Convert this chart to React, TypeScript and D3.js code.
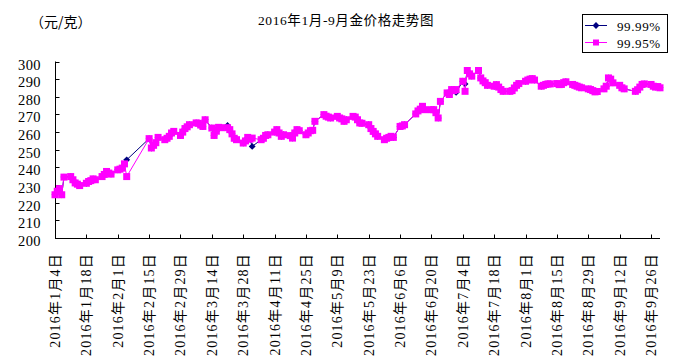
import React, { useRef, useEffect } from "react";
import * as d3 from "d3";

// trading days (M/D, 2016)
const tradingDays = [
  "1/4", "1/5", "1/6", "1/7", "1/8", "1/11", "1/12", "1/13", "1/14", "1/15", "1/18", "1/19", "1/20", "1/21", "1/22", "1/25", "1/26", "1/27", "1/28", "1/29",
  "2/1", "2/2", "2/3", "2/4", "2/5", "2/15", "2/16", "2/17", "2/18", "2/19", "2/22", "2/23", "2/24", "2/25", "2/26", "2/29",
  "3/1", "3/2", "3/3", "3/4", "3/7", "3/8", "3/9", "3/10", "3/11", "3/14", "3/15", "3/16", "3/17", "3/18", "3/21", "3/22", "3/23", "3/24", "3/25", "3/28", "3/29", "3/30", "3/31",
  "4/1", "4/5", "4/6", "4/7", "4/8", "4/11", "4/12", "4/13", "4/14", "4/15", "4/18", "4/19", "4/20", "4/21", "4/22", "4/25", "4/26", "4/27", "4/28", "4/29",
  "5/3", "5/4", "5/5", "5/6", "5/9", "5/10", "5/11", "5/12", "5/13", "5/16", "5/17", "5/18", "5/19", "5/20", "5/23", "5/24", "5/25", "5/26", "5/27", "5/30", "5/31",
  "6/1", "6/2", "6/3", "6/6", "6/7", "6/8", "6/13", "6/14", "6/15", "6/16", "6/17", "6/20", "6/21", "6/22", "6/23", "6/24", "6/27", "6/28", "6/29", "6/30",
  "7/1", "7/4", "7/5", "7/6", "7/7", "7/8", "7/11", "7/12", "7/13", "7/14", "7/15", "7/18", "7/19", "7/20", "7/21", "7/22", "7/25", "7/26", "7/27", "7/28", "7/29",
  "8/1", "8/2", "8/3", "8/4", "8/5", "8/8", "8/9", "8/10", "8/11", "8/12", "8/15", "8/16", "8/17", "8/18", "8/19", "8/22", "8/23", "8/24", "8/25", "8/26", "8/29", "8/30", "8/31",
  "9/1", "9/2", "9/5", "9/6", "9/7", "9/8", "9/9", "9/12", "9/13", "9/14", "9/19", "9/20", "9/21", "9/22", "9/23", "9/26", "9/27", "9/28", "9/29", "9/30",
];

// Au99.99 (元/克)
const au9999 = [
  224.5, 226.5, 228, 224.5, 234.5, 234.8, 233, 231.2, 230.5, 229.7, 231, 232, 232.5, 233.5, 233, 234.8, 236, 237.7, 236.8, 236.2,
  238.6, 239, 239.6, 242, 244.3, 256.3, 251, 252.5, 254, 257, 255.7, 256.5, 257.6, 259.5, 260.4, 258.1,
  260, 262, 263, 264.2, 265.2, 265, 264, 263.2, 267, 262.3, 258.1, 260.5, 262.7, 262.5, 263.8, 261.4, 259, 256.5, 255.7, 253.8, 255, 257, 256,
  251.9, 255.7, 256.5, 258.1, 258.5, 260, 261.4, 259.5, 257.6, 258.5, 258, 256.6, 259.5, 261.4, 260.8, 258.5, 259.5, 260.8, 261, 266.1,
  269.9, 269, 268.5, 268, 268.9, 268, 267.5, 266.1, 267, 268.9, 268.5, 267, 265.2, 265, 264.2, 262, 260.4, 259, 257.6, 255.7, 256.5,
  257, 257.6, 257, 263.2, 263.5, 264.2, 270.3, 272, 273, 274.6, 272.7, 272.7, 272.7, 271, 268, 277.4, 282.2, 281.3, 284.1, 283.5,
  282.5, 288.8, 287.3, 294.9, 293, 291.7, 294.9, 290.7, 289, 288, 286.5, 286, 286.9, 285.5, 284.1, 283.1, 283.1, 283.5, 285, 286.5, 287.5,
  288.8, 289.5, 290, 290.3, 289.5, 286, 286.5, 287, 287.3, 287.3, 287.5, 286.9, 287, 288, 288.5, 287, 286.5, 286, 285.5, 285.1, 284.5, 284.1, 283.5,
  282.8, 283, 284.5, 286, 290.7, 290, 287.9, 286.5, 285.1, 284.5, 283.1, 284, 285.5, 287, 287.3, 287, 286, 285.5, 285.8, 285.1,
];

// Au99.95 (元/克)
const au9995 = [
  224.5, 226.5, 228, 224.5, 234.5, 234.8, 233, 231.2, 230.5, 229.7, 231, 232, 232.5, 233.5, 233, 234.8, 236, 237.7, 236.8, 236.2,
  238.6, 239, 239.6, 242, 234.8, 256.3, 251, 252.5, 254, 257, 255.7, 256.5, 257.6, 259.5, 260.4, 258.1,
  260, 262, 263, 264.2, 265.2, 265, 264, 263.2, 267, 262.3, 258.1, 260.5, 262.7, 262.5, 262.5, 261.4, 259, 256.5, 255.7, 253.8, 255, 257, 256,
  256.6, 255.7, 256.5, 258.1, 258.5, 260, 261.4, 259.5, 257.6, 258.5, 258, 256.6, 259.5, 261.4, 260.8, 258.5, 259.5, 260.8, 261, 266.1,
  269.9, 269, 268.5, 268, 268.9, 268, 267.5, 266.1, 267, 268.9, 268.5, 267, 265.2, 265, 264.2, 262, 260.4, 259, 257.6, 255.7, 256.5,
  257, 257.6, 257, 263.2, 263.5, 264.2, 270.3, 272, 273, 274.6, 272.7, 272.7, 272.7, 271, 268, 277.4, 282.2, 281.3, 284.1, 283.5,
  284.1, 288.8, 283.1, 294.9, 293, 291.7, 294.9, 290.7, 289, 288, 286.5, 286, 286.9, 285.5, 284.1, 283.1, 283.1, 283.5, 285, 286.5, 287.5,
  288.8, 289.5, 290, 290.3, 289.5, 286, 286.5, 287, 287.3, 287.3, 287.5, 286.9, 287, 288, 288.5, 287, 286.5, 286, 285.5, 285.1, 284.5, 284.1, 283.5,
  282.8, 283, 284.5, 286, 290.7, 290, 287.9, 286.5, 285.1, 284.5, 283.1, 284, 285.5, 287, 287.3, 287, 286, 285.5, 285.8, 285.1,
];

const tickDays = [
  "1/4", "1/18", "2/1", "2/15", "2/29", "3/14", "3/28", "4/11", "4/25", "5/9",
  "5/23", "6/6", "6/20", "7/4", "7/18", "8/1", "8/15", "8/29", "9/12", "9/26",
];
const yTicks = [200, 210, 220, 230, 240, 250, 260, 270, 280, 290, 300];
const seriesNames = ["99.99%", "99.95%"];

const W = 681;
const H = 364;
const FONT = '"Liberation Serif", "Noto Sans CJK SC", serif';
const CJK = '"Noto Sans CJK SC", "Liberation Serif", sans-serif';

const toDate = (md: string) => {
  const [m, d] = md.split("/").map(Number);
  return new Date(2016, m - 1, d);
};

const App = () => {
  const svgRef = useRef<SVGSVGElement>(null);

  useEffect(() => {
    document.body.style.margin = "0";
    const svg = d3.select(svgRef.current);
    svg.selectAll("*").remove();

    const x = d3
      .scaleTime()
      .domain([new Date(2016, 0, 4), new Date(2016, 8, 30)])
      .range([55, 660]);
    const y = d3.scaleLinear().domain([200, 300]).range([238, 61.5]);

    const g = svg.append("g");

    // y axis, ticks pointing inward
    g.append("line")
      .attr("x1", 55.5).attr("x2", 55.5)
      .attr("y1", y(300)).attr("y2", y(200) + 0.5)
      .attr("stroke", "#000");
    yTicks.forEach((t) => {
      const yy = Math.round(y(t)) + 0.5;
      g.append("line")
        .attr("x1", 55.5).attr("x2", 59.5)
        .attr("y1", yy).attr("y2", yy)
        .attr("stroke", "#000");
      g.append("text")
        .attr("x", 41).attr("y", yy + 2)
        .attr("text-anchor", "end")
        .attr("dominant-baseline", "central")
        .style("font-family", FONT).style("font-size", "14.5px")
        .style("letter-spacing", "0.4px")
        .text(t);
    });

    // x axis
    g.append("line")
      .attr("x1", 55).attr("x2", 660)
      .attr("y1", Math.round(y(200)) + 0.5).attr("y2", Math.round(y(200)) + 0.5)
      .attr("stroke", "#000");
    tickDays.forEach((md) => {
      const d = toDate(md);
      const xx = Math.round(x(d)) + 0.5;
      g.append("line")
        .attr("x1", xx).attr("x2", xx)
        .attr("y1", Math.round(y(200)) - 3.5).attr("y2", Math.round(y(200)) + 0.5)
        .attr("stroke", "#000");
      g.append("text")
        .attr("transform", `translate(${xx},253) rotate(-90)`)
        .attr("text-anchor", "end")
        .attr("dominant-baseline", "central")
        .style("font-family", FONT).style("font-size", "14px")
        .style("letter-spacing", "1.2px")
        .text(`2016年${d.getMonth() + 1}月${d.getDate()}日`);
    });

    const dates = tradingDays.map(toDate);
    const line = d3
      .line<number>()
      .x((_, i) => x(dates[i]))
      .y((v) => y(v));

    // 99.99 - navy diamonds, drawn first
    g.append("path")
      .attr("d", line(au9999))
      .attr("fill", "none")
      .attr("stroke", "#000080")
      .attr("stroke-width", 1);
    g.append("g")
      .selectAll("path")
      .data(au9999)
      .enter()
      .append("path")
      .attr("d", d3.symbol(d3.symbolDiamond2, 30)())
      .attr("transform", (v, i) => `translate(${x(dates[i])},${y(v)})`)
      .attr("fill", "#000080");

    // 99.95 - magenta squares on top
    g.append("path")
      .attr("d", line(au9995))
      .attr("fill", "none")
      .attr("stroke", "#ff00ff")
      .attr("stroke-width", 1);
    g.append("g")
      .selectAll("rect")
      .data(au9995)
      .enter()
      .append("rect")
      .attr("x", (_, i) => x(dates[i]) - 3.5)
      .attr("y", (v) => y(v) - 3.5)
      .attr("width", 7)
      .attr("height", 7)
      .attr("fill", "#ff00ff");

    // titles
    svg.append("text")
      .attr("x", 346).attr("y", 20)
      .attr("text-anchor", "middle")
      .attr("dominant-baseline", "central")
      .style("font-family", FONT).style("font-size", "13.5px")
      .style("letter-spacing", "0.6px")
      .text("2016年1月-9月金价格走势图");
    svg.append("text")
      .attr("x", 30).attr("y", 21)
      .attr("dominant-baseline", "central")
      .style("font-family", CJK).style("font-size", "14px")
      .text("（元/克）");

    // legend
    const lg = svg.append("g");
    lg.append("rect")
      .attr("x", 582.5).attr("y", 14.5)
      .attr("width", 85).attr("height", 38)
      .attr("fill", "#fff").attr("stroke", "#000");
    const colors = ["#000080", "#ff00ff"];
    seriesNames.forEach((name, i) => {
      const ly = 25 + i * 17;
      lg.append("line")
        .attr("x1", 585).attr("x2", 607)
        .attr("y1", ly + 0.5).attr("y2", ly + 0.5)
        .attr("stroke", colors[i]);
      if (i === 0) {
        lg.append("path")
          .attr("d", d3.symbol(d3.symbolDiamond2, 30)())
          .attr("transform", `translate(596,${ly + 0.5})`)
          .attr("fill", colors[i]);
      } else {
        lg.append("rect")
          .attr("x", 593).attr("y", ly - 2.5)
          .attr("width", 6).attr("height", 6)
          .attr("fill", colors[i]);
      }
      lg.append("text")
        .attr("x", 617).attr("y", ly + 1)
        .attr("dominant-baseline", "central")
        .style("font-family", FONT).style("font-size", "13px")
        .style("letter-spacing", "0.6px")
        .text(name);
    });
  }, []);

  return <svg ref={svgRef} width={W} height={H} style={{ display: "block", background: "#fff" }} />;
};

export default App;
